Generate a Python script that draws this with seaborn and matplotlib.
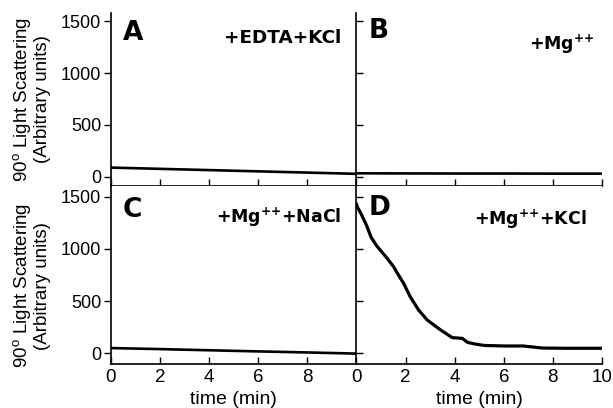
import pandas as pd
import seaborn as sns
import matplotlib.pyplot as plt

# values
time_flat = [0, 2, 4, 6, 8, 10]
edta_kcl = [90, 78, 66, 54, 42, 30]
mg_only = [35, 34, 33, 33, 32, 32]
mg_nacl = [50, 40, 29, 18, 8, -3]

time_d = [0, 0.03, 0.2, 0.41, 0.6, 0.82, 1.23, 1.51, 1.71, 1.92, 2.19, 2.53,
          2.88, 3.43, 3.9, 4.31, 4.52, 4.8, 5.2, 6.0, 6.78, 7.6, 8.5, 10]
mg_kcl = [1430, 1404, 1330, 1225, 1110, 1030, 915, 830, 750, 670, 542, 415,
          319, 223, 150, 143, 105, 90, 75, 70, 70, 50, 48, 48]

panel_letters = ["A", "B", "C", "D"]
panel_labels = ["+EDTA+KCl", "+Mg$^{\\mathbf{{+}{+}}}$",
                "+Mg$^{\\mathbf{{+}{+}}}$+NaCl", "+Mg$^{\\mathbf{{+}{+}}}$+KCl"]
y_ticks = [0, 500, 1000, 1500]
x_ticks = [0, 2, 4, 6, 8, 10]

sns.set_style("ticks")
plt.rcParams['font.family'] = ['Liberation Sans', 'DejaVu Sans']
plt.rcParams['mathtext.fontset'] = 'custom'
plt.rcParams['mathtext.rm'] = 'Liberation Sans'
plt.rcParams['mathtext.bf'] = 'DejaVu Sans:bold'
for key in ['text.color', 'axes.labelcolor', 'xtick.color', 'ytick.color',
            'axes.edgecolor']:
    plt.rcParams[key] = 'black'

panels = [
    pd.DataFrame({'time': time_flat, 'signal': edta_kcl}),
    pd.DataFrame({'time': time_flat, 'signal': mg_only}),
    pd.DataFrame({'time': time_flat, 'signal': mg_nacl}),
    pd.DataFrame({'time': time_d, 'signal': mg_kcl}),
]

fig = plt.figure(figsize=(6.13, 4.08), dpi=100)
gs = fig.add_gridspec(2, 2, left=0.181, right=0.982, top=0.968, bottom=0.108,
                      wspace=0, hspace=0, height_ratios=[173, 178])

# letter / label placement (axes fraction, baselines)
letter_y = [0.844, 0.855, 0.828, 0.837]
label_pos = [(0.939, 0.827), (0.971, 0.79), (0.939, 0.794), (0.937, 0.781)]
label_size = [13.2, 12.5, 12.5, 12.5]
ylims = [(-87, 1577), (-87, 1577), (-102, 1602), (-102, 1602)]

for i in range(4):
    ax = fig.add_subplot(gs[i // 2, i % 2])
    sns.lineplot(data=panels[i], x='time', y='signal', ax=ax, color='black',
                 linewidth=2.3 if i == 3 else 1.9)
    ax.set_xlim(0, 10)
    ax.set_ylim(*ylims[i])
    ax.set_xticks(x_ticks)
    ax.set_yticks(y_ticks)
    for side in ['top', 'right']:
        ax.spines[side].set_visible(False)
    for side in ['left', 'bottom']:
        ax.spines[side].set_linewidth(1.2)
    ax.tick_params(axis='x', direction='in', length=5, width=1,
                   labelsize=13.5, pad=4)
    if i % 2 == 0:
        ax.tick_params(axis='y', direction='out', length=5, width=1,
                       labelsize=13, pad=2)
        ax.set_ylabel("90$^{\\mathrm{o}}$ Light Scattering\n(Arbitrary units)",
                      fontsize=13.5, linespacing=1.0)
        ax.yaxis.set_label_coords(-0.245, 0.5 if i == 0 else 0.44)
    else:
        ax.tick_params(axis='y', direction='in', length=5, width=1,
                       labelleft=False)
        ax.set_ylabel('')
    if i < 2:
        ax.tick_params(axis='x', labelbottom=False)
        ax.set_xlabel('')
    else:
        ax.set_xlabel('time (min)', fontsize=14, labelpad=3)
        if i == 2:
            ax.set_xticklabels(['0', '2', '4', '6', '8', ''])
    ax.text(0.049, letter_y[i], panel_letters[i], transform=ax.transAxes,
            fontsize=19, fontweight='bold', family='DejaVu Sans',
            va='baseline', ha='left')
    ax.text(label_pos[i][0], label_pos[i][1], panel_labels[i], transform=ax.transAxes,
            fontsize=label_size[i], fontweight='bold', family='DejaVu Sans',
            va='baseline', ha='right')

plt.savefig('out.png', dpi=100)
